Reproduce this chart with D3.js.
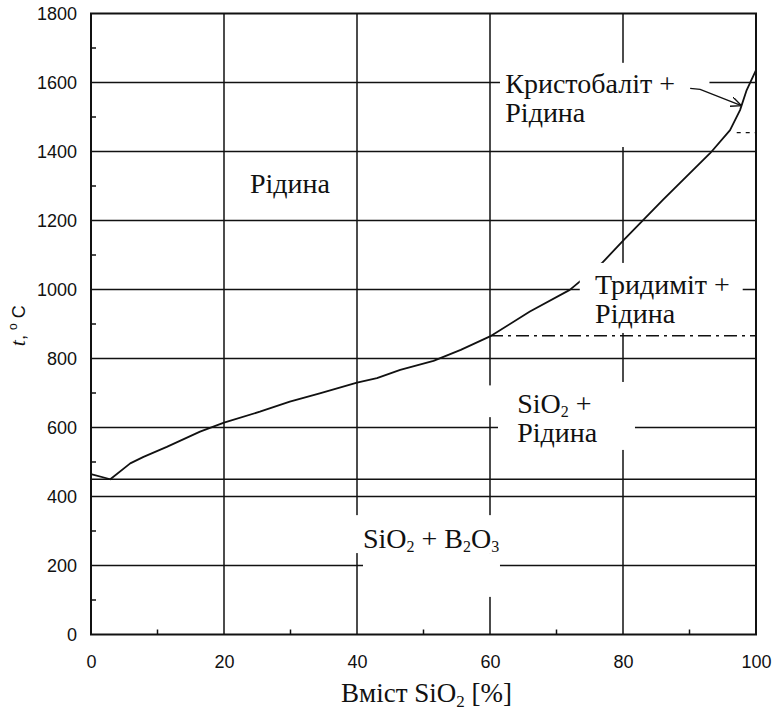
<!DOCTYPE html>
<html>
<head>
<meta charset="utf-8">
<script src="https://cdn.jsdelivr.net/npm/d3@7/dist/d3.min.js"></script>
<style>
  body { margin: 0; background: #fff; }
  svg { display: block; }
</style>
</head>
<body>
<svg id="chart" width="773" height="719"></svg>
<script>
// liquidus
const sio2 = [0, 2.9, 5.9, 7.9, 11.4, 16.4, 20, 25.4, 29.9, 34.4, 40, 43, 46.5, 51.5, 55.6, 60, 66, 72, 76.8, 80.2, 86, 93.1, 96.1, 97.6, 98.6, 100]
const temp = [465, 450, 496, 515, 544, 588, 614, 646, 675, 699, 730, 743, 767, 793, 825, 864, 936, 999, 1076, 1145, 1260, 1395, 1462, 1520, 1578, 1636]

const solidusT = 450
const tridymiteT = 866
const cristobaliteT = 1455

const xGrid = [20, 40, 60, 80]
const yGrid = [200, 400, 600, 800, 1000, 1200, 1400, 1600]
const xMajor = [0, 20, 40, 60, 80, 100]
const xMinor = [10, 30, 50, 70, 90]
const yMajor = [0, 200, 400, 600, 800, 1000, 1200, 1400, 1600, 1800]
const yMinor = [100, 300, 500, 700, 900, 1100, 1300, 1500, 1700]

// white boxes behind the phase labels [x0, x1, t0, t1]
const masks = [
  [61.5, 93.0, 1413, 1657],
  [73.5, 98.0, 874, 1077],
  [61.2, 81.8, 535, 732],
  [59.4, 60.6, 630, 722],
  [39.2, 61.5, 236, 346],
  [40.9, 61.5, 109, 236]
]

const W = 773
const H = 719
const margin = { top: 13.5, right: 17, bottom: 84.5, left: 91 }

const svg = d3.select('#chart')
const x = d3.scaleLinear().domain([0, 100]).range([margin.left, W - margin.right])
const y = d3.scaleLinear().domain([0, 1800]).range([H - margin.bottom, margin.top])

const ink = '#111'
const serif = '"Liberation Serif", "Times New Roman", serif'
const sans = '"Liberation Sans", Arial, sans-serif'

// grid
const grid = svg.append('g').attr('stroke', ink).attr('stroke-width', 1.5)
grid.selectAll('.vg').data(xGrid).join('line')
  .attr('x1', (d) => x(d)).attr('x2', (d) => x(d))
  .attr('y1', y(0)).attr('y2', y(1800))
grid.selectAll('.hg').data(yGrid).join('line')
  .attr('x1', x(0)).attr('x2', x(100))
  .attr('y1', (d) => y(d)).attr('y2', (d) => y(d))

// solidus (eutectic line)
svg.append('line')
  .attr('x1', x(0)).attr('x2', x(100))
  .attr('y1', y(solidusT)).attr('y2', y(solidusT))
  .attr('stroke', ink).attr('stroke-width', 1.6)

// liquidus
const line = d3.line().x((d) => x(d[0])).y((d) => y(d[1]))
svg.append('path')
  .datum(d3.zip(sio2, temp))
  .attr('d', line)
  .attr('fill', 'none')
  .attr('stroke', ink)
  .attr('stroke-width', 1.8)
  .attr('stroke-linejoin', 'round')

// label boxes
svg.append('g').selectAll('rect').data(masks).join('rect')
  .attr('x', (d) => x(d[0]))
  .attr('width', (d) => x(d[1]) - x(d[0]))
  .attr('y', (d) => y(d[3]))
  .attr('height', (d) => y(d[2]) - y(d[3]))
  .attr('fill', '#fff')

// polymorph transitions
svg.append('line')
  .attr('x1', x(60)).attr('x2', x(100))
  .attr('y1', y(tridymiteT)).attr('y2', y(tridymiteT))
  .attr('stroke', ink).attr('stroke-width', 1.5)
  .attr('stroke-dasharray', '13,5,3,5')
svg.append('line')
  .attr('x1', x(97.1)).attr('x2', x(100))
  .attr('y1', y(cristobaliteT)).attr('y2', y(cristobaliteT))
  .attr('stroke', ink).attr('stroke-width', 1.3)
  .attr('stroke-dasharray', '4,5')

// arrow to the cristobalite branch
svg.append('defs').append('marker')
  .attr('id', 'head')
  .attr('viewBox', '0 0 12 10')
  .attr('refX', 11).attr('refY', 5)
  .attr('markerWidth', 12).attr('markerHeight', 10)
  .attr('markerUnits', 'userSpaceOnUse')
  .attr('orient', 'auto')
  .append('path')
  .attr('d', 'M0,0 L11,5 L0,10')
  .attr('fill', 'none').attr('stroke', ink).attr('stroke-width', 1.4)
const arrowPts = [[90.1, 1583], [91.6, 1580], [97.8, 1533]]
svg.append('path')
  .datum(arrowPts)
  .attr('d', line)
  .attr('fill', 'none').attr('stroke', ink).attr('stroke-width', 1.4)
  .attr('marker-end', 'url(#head)')

// phase labels (odd parts are subscripts)
const labels = [
  { x: 23.9, t: 1280, lines: [['Рідина']] },
  { x: 62.3, t: 1570, lines: [['Кристобаліт +'], ['Рідина']] },
  { x: 75.8, t: 987, lines: [['Тридиміт +'], ['Рідина']] },
  { x: 64.1, t: 642, lines: [['SiO', '2', ' +'], ['Рідина']] },
  { x: 40.9, t: 251, lines: [['SiO', '2', ' + B', '2', 'O', '3']] }
]
const lineGap = 29
const subShift = 4
const lg = svg.append('g').attr('font-family', serif).attr('font-size', 28).attr('fill', ink)
labels.forEach((lb) => {
  const t = lg.append('text')
    .attr('x', x(lb.x))
    .attr('y', y(lb.t))
  lb.lines.forEach((parts, i) => {
    parts.forEach((p, k) => {
      const sub = k % 2 === 1
      const ts = t.append('tspan')
        .attr('font-size', sub ? 16 : null)
        .text(p)
      if (k === 0 && i > 0) {
        ts.attr('x', x(lb.x)).attr('dy', lineGap)
      } else {
        ts.attr('dy', sub ? subShift : (k > 0 ? -subShift : 0))
      }
    })
  })
})

// frame
svg.append('rect')
  .attr('x', x(0)).attr('y', y(1800))
  .attr('width', x(100) - x(0)).attr('height', y(0) - y(1800))
  .attr('fill', 'none').attr('stroke', ink).attr('stroke-width', 2)

// axes
const xAxis = d3.axisBottom(x).tickValues(xMajor).tickSize(0).tickPadding(21).tickFormat(d3.format('d'))
const yAxis = d3.axisLeft(y).tickValues(yMajor).tickSize(0).tickPadding(14).tickFormat(d3.format('d'))
const gx = svg.append('g').attr('transform', `translate(0,${y(0)})`).call(xAxis)
const gy = svg.append('g').attr('transform', `translate(${x(0)},0)`).call(yAxis)
;[gx, gy].forEach((g) => {
  g.select('.domain').remove()
  g.selectAll('text').attr('font-family', sans).attr('font-size', 18).attr('fill', ink)
})

const ticks = svg.append('g').attr('stroke', ink).attr('stroke-width', 1.5)
ticks.selectAll('.xm').data(xMinor).join('line')
  .attr('x1', (d) => x(d)).attr('x2', (d) => x(d))
  .attr('y1', y(0)).attr('y2', y(0) - 5)
ticks.selectAll('.ym').data(yMinor).join('line')
  .attr('x1', x(0)).attr('x2', x(0) + 5)
  .attr('y1', (d) => y(d)).attr('y2', (d) => y(d))

// axis titles
const xt = svg.append('text')
  .attr('x', (x(0) + x(100)) / 2 + 3)
  .attr('y', 702)
  .attr('text-anchor', 'middle')
  .attr('font-family', serif).attr('font-size', 27).attr('fill', ink)
xt.append('tspan').text('Вміст SiO')
xt.append('tspan').attr('font-size', 17).attr('dy', 5).text('2')
xt.append('tspan').attr('dy', -5).text(' [%]')

const yt = svg.append('text')
  .attr('transform', `translate(25,${y(895)}) rotate(-90)`)
  .attr('text-anchor', 'middle')
  .attr('font-family', sans).attr('font-size', 18).attr('fill', ink)
yt.append('tspan').attr('font-family', serif).attr('font-style', 'italic').attr('font-size', 22).text('t')
yt.append('tspan').text(', ')
yt.append('tspan').attr('font-size', 12).attr('dy', -8).text('o')
yt.append('tspan').attr('dy', 8).text(' C')
</script>
</body>
</html>
